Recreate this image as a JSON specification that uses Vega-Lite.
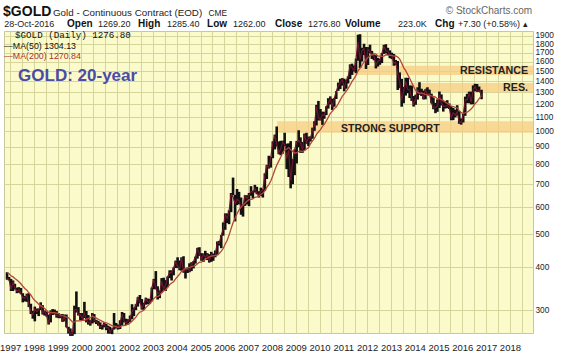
{
"$schema": "https://vega.github.io/schema/vega-lite/v6.json",
"width": 529, "height": 302,
"autosize": {"type": "none"},
"padding": {"left": 4, "top": 31, "right": 36, "bottom": 22},
"background": "#ffffff",
"config": {
  "view": {"fill": "#fafacb", "stroke": "#c8c8a0", "strokeWidth": 1},
  "font": "Liberation Sans",
  "axis": {"labelFont": "Liberation Sans", "labelFontSize": 9.5, "labelColor": "#222", "gridColor": "#d6d69c", "gridWidth": 1, "gridOpacity": 1, "ticks": false, "tickSize": 0, "domain": false, "title": null}
},
"datasets": {
"gold": [
{"date":"1996-11-15","high":387,"low":368,"close":372,"ma200":386},
{"date":"1996-12-15","high":375,"low":366,"close":369,"ma200":383},
{"date":"1997-01-15","high":370,"low":341,"close":345,"ma200":378},
{"date":"1997-02-15","high":366,"low":341,"close":362,"ma200":375},
{"date":"1997-03-15","high":358,"low":345,"close":349,"ma200":371},
{"date":"1997-04-15","high":349,"low":336,"close":340,"ma200":367},
{"date":"1997-05-15","high":350,"low":337,"close":345,"ma200":363},
{"date":"1997-06-15","high":348,"low":334,"close":335,"ma200":358},
{"date":"1997-07-15","high":336,"low":316,"close":326,"ma200":352},
{"date":"1997-08-15","high":330,"low":318,"close":325,"ma200":347},
{"date":"1997-09-15","high":335,"low":317,"close":332,"ma200":343},
{"date":"1997-10-15","high":336,"low":306,"close":311,"ma200":337},
{"date":"1997-11-15","high":313,"low":292,"close":297,"ma200":332},
{"date":"1997-12-15","high":298,"low":283,"close":290,"ma200":325},
{"date":"1998-01-15","high":307,"low":278,"close":302,"ma200":320},
{"date":"1998-02-15","high":303,"low":292,"close":297,"ma200":316},
{"date":"1998-03-15","high":303,"low":288,"close":301,"ma200":312},
{"date":"1998-04-15","high":316,"low":300,"close":309,"ma200":309},
{"date":"1998-05-15","high":310,"low":291,"close":294,"ma200":306},
{"date":"1998-06-15","high":299,"low":289,"close":297,"ma200":303},
{"date":"1998-07-15","high":297,"low":287,"close":289,"ma200":299},
{"date":"1998-08-15","high":291,"low":272,"close":274,"ma200":295},
{"date":"1998-09-15","high":299,"low":276,"close":297,"ma200":295},
{"date":"1998-10-15","high":302,"low":290,"close":293,"ma200":295},
{"date":"1998-11-15","high":301,"low":291,"close":295,"ma200":295},
{"date":"1998-12-15","high":298,"low":285,"close":289,"ma200":294},
{"date":"1999-01-15","high":294,"low":284,"close":288,"ma200":293},
{"date":"1999-02-15","high":292,"low":284,"close":288,"ma200":290},
{"date":"1999-03-15","high":292,"low":277,"close":280,"ma200":289},
{"date":"1999-04-15","high":291,"low":278,"close":287,"ma200":288},
{"date":"1999-05-15","high":291,"low":267,"close":268,"ma200":286},
{"date":"1999-06-15","high":268,"low":256,"close":262,"ma200":285},
{"date":"1999-07-15","high":265,"low":252,"close":256,"ma200":281},
{"date":"1999-08-15","high":259,"low":252,"close":256,"ma200":277},
{"date":"1999-09-15","high":309,"low":255,"close":300,"ma200":277},
{"date":"1999-10-15","high":340,"low":295,"close":301,"ma200":279},
{"date":"1999-11-15","high":306,"low":289,"close":292,"ma200":279},
{"date":"1999-12-15","high":294,"low":280,"close":290,"ma200":279},
{"date":"2000-01-15","high":294,"low":280,"close":284,"ma200":280},
{"date":"2000-02-15","high":317,"low":284,"close":295,"ma200":280},
{"date":"2000-03-15","high":298,"low":276,"close":280,"ma200":282},
{"date":"2000-04-15","high":290,"low":272,"close":276,"ma200":283},
{"date":"2000-05-15","high":280,"low":270,"close":274,"ma200":285},
{"date":"2000-06-15","high":294,"low":274,"close":290,"ma200":288},
{"date":"2000-07-15","high":292,"low":276,"close":279,"ma200":286},
{"date":"2000-08-15","high":281,"low":273,"close":278,"ma200":284},
{"date":"2000-09-15","high":279,"low":270,"close":274,"ma200":282},
{"date":"2000-10-15","high":276,"low":264,"close":266,"ma200":280},
{"date":"2000-11-15","high":271,"low":263,"close":270,"ma200":278},
{"date":"2000-12-15","high":276,"low":267,"close":274,"ma200":276},
{"date":"2001-01-15","high":273,"low":262,"close":266,"ma200":275},
{"date":"2001-02-15","high":270,"low":256,"close":267,"ma200":274},
{"date":"2001-03-15","high":268,"low":256,"close":258,"ma200":272},
{"date":"2001-04-15","high":265,"low":255,"close":264,"ma200":270},
{"date":"2001-05-15","high":294,"low":263,"close":268,"ma200":269},
{"date":"2001-06-15","high":275,"low":265,"close":270,"ma200":268},
{"date":"2001-07-15","high":272,"low":263,"close":266,"ma200":267},
{"date":"2001-08-15","high":280,"low":264,"close":274,"ma200":268},
{"date":"2001-09-15","high":296,"low":271,"close":292,"ma200":270},
{"date":"2001-10-15","high":294,"low":276,"close":279,"ma200":270},
{"date":"2001-11-15","high":283,"low":271,"close":275,"ma200":271},
{"date":"2001-12-15","high":282,"low":272,"close":279,"ma200":273},
{"date":"2002-01-15","high":289,"low":277,"close":282,"ma200":275},
{"date":"2002-02-15","high":312,"low":282,"close":297,"ma200":278},
{"date":"2002-03-15","high":305,"low":288,"close":302,"ma200":282},
{"date":"2002-04-15","high":312,"low":300,"close":309,"ma200":286},
{"date":"2002-05-15","high":327,"low":307,"close":326,"ma200":292},
{"date":"2002-06-15","high":332,"low":314,"close":318,"ma200":296},
{"date":"2002-07-15","high":323,"low":301,"close":304,"ma200":297},
{"date":"2002-08-15","high":315,"low":300,"close":312,"ma200":300},
{"date":"2002-09-15","high":326,"low":311,"close":324,"ma200":305},
{"date":"2002-10-15","high":324,"low":312,"close":317,"ma200":309},
{"date":"2002-11-15","high":323,"low":313,"close":318,"ma200":313},
{"date":"2002-12-15","high":349,"low":318,"close":348,"ma200":318},
{"date":"2003-01-15","high":370,"low":345,"close":368,"ma200":324},
{"date":"2003-02-15","high":390,"low":345,"close":348,"ma200":328},
{"date":"2003-03-15","high":352,"low":322,"close":335,"ma200":329},
{"date":"2003-04-15","high":342,"low":325,"close":337,"ma200":331},
{"date":"2003-05-15","high":372,"low":337,"close":364,"ma200":337},
{"date":"2003-06-15","high":373,"low":342,"close":346,"ma200":341},
{"date":"2003-07-15","high":367,"low":341,"close":354,"ma200":344},
{"date":"2003-08-15","high":376,"low":350,"close":375,"ma200":349},
{"date":"2003-09-15","high":392,"low":372,"close":386,"ma200":356},
{"date":"2003-10-15","high":392,"low":366,"close":386,"ma200":360},
{"date":"2003-11-15","high":400,"low":379,"close":398,"ma200":363},
{"date":"2003-12-15","high":418,"low":398,"close":416,"ma200":370},
{"date":"2004-01-15","high":428,"low":398,"close":402,"ma200":376},
{"date":"2004-02-15","high":419,"low":392,"close":397,"ma200":382},
{"date":"2004-03-15","high":428,"low":391,"close":426,"ma200":389},
{"date":"2004-04-15","high":431,"low":386,"close":388,"ma200":393},
{"date":"2004-05-15","high":396,"low":371,"close":394,"ma200":397},
{"date":"2004-06-15","high":397,"low":385,"close":395,"ma200":399},
{"date":"2004-07-15","high":411,"low":387,"close":391,"ma200":399},
{"date":"2004-08-15","high":414,"low":390,"close":408,"ma200":402},
{"date":"2004-09-15","high":417,"low":397,"close":416,"ma200":403},
{"date":"2004-10-15","high":430,"low":410,"close":429,"ma200":405},
{"date":"2004-11-15","high":456,"low":424,"close":453,"ma200":410},
{"date":"2004-12-15","high":458,"low":432,"close":438,"ma200":414},
{"date":"2005-01-15","high":440,"low":418,"close":423,"ma200":414},
{"date":"2005-02-15","high":439,"low":415,"close":436,"ma200":418},
{"date":"2005-03-15","high":447,"low":425,"close":428,"ma200":422},
{"date":"2005-04-15","high":440,"low":420,"close":436,"ma200":426},
{"date":"2005-05-15","high":437,"low":413,"close":418,"ma200":429},
{"date":"2005-06-15","high":444,"low":415,"close":437,"ma200":431},
{"date":"2005-07-15","high":439,"low":418,"close":430,"ma200":433},
{"date":"2005-08-15","high":448,"low":428,"close":434,"ma200":433},
{"date":"2005-09-15","high":476,"low":434,"close":473,"ma200":435},
{"date":"2005-10-15","high":478,"low":463,"close":470,"ma200":439},
{"date":"2005-11-15","high":497,"low":455,"close":496,"ma200":446},
{"date":"2005-12-15","high":541,"low":495,"close":518,"ma200":454},
{"date":"2006-01-15","high":575,"low":515,"close":570,"ma200":468},
{"date":"2006-02-15","high":575,"low":539,"close":556,"ma200":480},
{"date":"2006-03-15","high":587,"low":535,"close":584,"ma200":497},
{"date":"2006-04-15","high":660,"low":580,"close":654,"ma200":519},
{"date":"2006-05-15","high":732,"low":650,"close":643,"ma200":540},
{"date":"2006-06-15","high":652,"low":545,"close":614,"ma200":558},
{"date":"2006-07-15","high":678,"low":608,"close":633,"ma200":574},
{"date":"2006-08-15","high":665,"low":612,"close":626,"ma200":589},
{"date":"2006-09-15","high":640,"low":570,"close":599,"ma200":600},
{"date":"2006-10-15","high":610,"low":563,"close":606,"ma200":609},
{"date":"2006-11-15","high":650,"low":605,"close":647,"ma200":616},
{"date":"2006-12-15","high":650,"low":611,"close":636,"ma200":624},
{"date":"2007-01-15","high":660,"low":604,"close":651,"ma200":631},
{"date":"2007-02-15","high":691,"low":648,"close":667,"ma200":632},
{"date":"2007-03-15","high":670,"low":636,"close":663,"ma200":634},
{"date":"2007-04-15","high":697,"low":662,"close":680,"ma200":641},
{"date":"2007-05-15","high":688,"low":654,"close":659,"ma200":643},
{"date":"2007-06-15","high":668,"low":640,"close":650,"ma200":646},
{"date":"2007-07-15","high":684,"low":647,"close":667,"ma200":653},
{"date":"2007-08-15","high":677,"low":640,"close":673,"ma200":659},
{"date":"2007-09-15","high":753,"low":670,"close":743,"ma200":669},
{"date":"2007-10-15","high":797,"low":725,"close":794,"ma200":685},
{"date":"2007-11-15","high":848,"low":778,"close":783,"ma200":698},
{"date":"2007-12-15","high":842,"low":783,"close":838,"ma200":715},
{"date":"2008-01-15","high":934,"low":834,"close":924,"ma200":741},
{"date":"2008-02-15","high":978,"low":885,"close":972,"ma200":770},
{"date":"2008-03-15","high":1033,"low":903,"close":917,"ma200":796},
{"date":"2008-04-15","high":934,"low":857,"close":865,"ma200":818},
{"date":"2008-05-15","high":938,"low":851,"close":888,"ma200":840},
{"date":"2008-06-15","high":939,"low":860,"close":930,"ma200":865},
{"date":"2008-07-15","high":990,"low":906,"close":912,"ma200":882},
{"date":"2008-08-15","high":920,"low":775,"close":833,"ma200":886},
{"date":"2008-09-15","high":922,"low":735,"close":880,"ma200":896},
{"date":"2008-10-15","high":936,"low":681,"close":718,"ma200":884},
{"date":"2008-11-15","high":829,"low":700,"close":815,"ma200":873},
{"date":"2008-12-15","high":885,"low":744,"close":884,"ma200":864},
{"date":"2009-01-15","high":937,"low":805,"close":928,"ma200":865},
{"date":"2009-02-15","high":1007,"low":898,"close":942,"ma200":873},
{"date":"2009-03-15","high":960,"low":865,"close":922,"ma200":876},
{"date":"2009-04-15","high":931,"low":865,"close":884,"ma200":872},
{"date":"2009-05-15","high":985,"low":880,"close":979,"ma200":879},
{"date":"2009-06-15","high":990,"low":920,"close":927,"ma200":888},
{"date":"2009-07-15","high":965,"low":905,"close":955,"ma200":895},
{"date":"2009-08-15","high":966,"low":933,"close":955,"ma200":919},
{"date":"2009-09-15","high":1025,"low":951,"close":1008,"ma200":938},
{"date":"2009-10-15","high":1070,"low":1003,"close":1040,"ma200":954},
{"date":"2009-11-15","high":1195,"low":1040,"close":1182,"ma200":979},
{"date":"2009-12-15","high":1227,"low":1075,"close":1096,"ma200":995},
{"date":"2010-01-15","high":1162,"low":1076,"close":1081,"ma200":1011},
{"date":"2010-02-15","high":1142,"low":1044,"close":1118,"ma200":1034},
{"date":"2010-03-15","high":1139,"low":1088,"close":1113,"ma200":1048},
{"date":"2010-04-15","high":1183,"low":1115,"close":1180,"ma200":1073},
{"date":"2010-05-15","high":1250,"low":1165,"close":1207,"ma200":1098},
{"date":"2010-06-15","high":1265,"low":1198,"close":1244,"ma200":1127},
{"date":"2010-07-15","high":1245,"low":1155,"close":1181,"ma200":1144},
{"date":"2010-08-15","high":1250,"low":1180,"close":1248,"ma200":1165},
{"date":"2010-09-15","high":1310,"low":1243,"close":1307,"ma200":1178},
{"date":"2010-10-15","high":1388,"low":1313,"close":1358,"ma200":1204},
{"date":"2010-11-15","high":1424,"low":1329,"close":1386,"ma200":1234},
{"date":"2010-12-15","high":1431,"low":1360,"close":1421,"ma200":1265},
{"date":"2011-01-15","high":1425,"low":1309,"close":1333,"ma200":1287},
{"date":"2011-02-15","high":1412,"low":1332,"close":1411,"ma200":1310},
{"date":"2011-03-15","high":1448,"low":1380,"close":1439,"ma200":1333},
{"date":"2011-04-15","high":1569,"low":1422,"close":1556,"ma200":1364},
{"date":"2011-05-15","high":1577,"low":1462,"close":1536,"ma200":1400},
{"date":"2011-06-15","high":1557,"low":1496,"close":1502,"ma200":1425},
{"date":"2011-07-15","high":1632,"low":1479,"close":1628,"ma200":1457},
{"date":"2011-08-15","high":1917,"low":1608,"close":1828,"ma200":1504},
{"date":"2011-09-15","high":1923,"low":1532,"close":1620,"ma200":1527},
{"date":"2011-10-15","high":1755,"low":1600,"close":1725,"ma200":1558},
{"date":"2011-11-15","high":1803,"low":1671,"close":1746,"ma200":1599},
{"date":"2011-12-15","high":1764,"low":1522,"close":1566,"ma200":1615},
{"date":"2012-01-15","high":1763,"low":1563,"close":1738,"ma200":1645},
{"date":"2012-02-15","high":1792,"low":1692,"close":1711,"ma200":1660},
{"date":"2012-03-15","high":1719,"low":1627,"close":1669,"ma200":1673},
{"date":"2012-04-15","high":1678,"low":1613,"close":1664,"ma200":1690},
{"date":"2012-05-15","high":1670,"low":1527,"close":1560,"ma200":1683},
{"date":"2012-06-15","high":1640,"low":1547,"close":1604,"ma200":1660},
{"date":"2012-07-15","high":1628,"low":1565,"close":1614,"ma200":1660},
{"date":"2012-08-15","high":1694,"low":1583,"close":1687,"ma200":1656},
{"date":"2012-09-15","high":1790,"low":1684,"close":1773,"ma200":1659},
{"date":"2012-10-15","high":1798,"low":1691,"close":1719,"ma200":1674},
{"date":"2012-11-15","high":1755,"low":1672,"close":1712,"ma200":1671},
{"date":"2012-12-15","high":1725,"low":1636,"close":1675,"ma200":1668},
{"date":"2013-01-15","high":1698,"low":1626,"close":1663,"ma200":1667},
{"date":"2013-02-15","high":1683,"low":1555,"close":1578,"ma200":1659},
{"date":"2013-03-15","high":1617,"low":1562,"close":1596,"ma200":1662},
{"date":"2013-04-15","high":1606,"low":1321,"close":1476,"ma200":1649},
{"date":"2013-05-15","high":1487,"low":1338,"close":1393,"ma200":1627},
{"date":"2013-06-15","high":1424,"low":1180,"close":1234,"ma200":1582},
{"date":"2013-07-15","high":1348,"low":1208,"close":1312,"ma200":1536},
{"date":"2013-08-15","high":1434,"low":1272,"close":1396,"ma200":1504},
{"date":"2013-09-15","high":1434,"low":1292,"close":1327,"ma200":1465},
{"date":"2013-10-15","high":1362,"low":1251,"close":1323,"ma200":1430},
{"date":"2013-11-15","high":1361,"low":1227,"close":1250,"ma200":1389},
{"date":"2013-12-15","high":1268,"low":1181,"close":1202,"ma200":1351},
{"date":"2014-01-15","high":1280,"low":1195,"close":1240,"ma200":1315},
{"date":"2014-02-15","high":1345,"low":1238,"close":1321,"ma200":1300},
{"date":"2014-03-15","high":1392,"low":1277,"close":1284,"ma200":1289},
{"date":"2014-04-15","high":1332,"low":1268,"close":1296,"ma200":1295},
{"date":"2014-05-15","high":1315,"low":1240,"close":1250,"ma200":1289},
{"date":"2014-06-15","high":1327,"low":1240,"close":1322,"ma200":1282},
{"date":"2014-07-15","high":1345,"low":1281,"close":1282,"ma200":1277},
{"date":"2014-08-15","high":1324,"low":1270,"close":1287,"ma200":1273},
{"date":"2014-09-15","high":1288,"low":1207,"close":1210,"ma200":1269},
{"date":"2014-10-15","high":1256,"low":1160,"close":1171,"ma200":1266},
{"date":"2014-11-15","high":1211,"low":1130,"close":1175,"ma200":1260},
{"date":"2014-12-15","high":1240,"low":1140,"close":1184,"ma200":1246},
{"date":"2015-01-15","high":1307,"low":1170,"close":1279,"ma200":1246},
{"date":"2015-02-15","high":1282,"low":1190,"close":1212,"ma200":1237},
{"date":"2015-03-15","high":1224,"low":1142,"close":1183,"ma200":1231},
{"date":"2015-04-15","high":1225,"low":1166,"close":1182,"ma200":1217},
{"date":"2015-05-15","high":1233,"low":1169,"close":1190,"ma200":1207},
{"date":"2015-06-15","high":1206,"low":1162,"close":1172,"ma200":1196},
{"date":"2015-07-15","high":1183,"low":1077,"close":1095,"ma200":1184},
{"date":"2015-08-15","high":1170,"low":1078,"close":1132,"ma200":1180},
{"date":"2015-09-15","high":1157,"low":1098,"close":1115,"ma200":1174},
{"date":"2015-10-15","high":1192,"low":1112,"close":1141,"ma200":1170},
{"date":"2015-11-15","high":1145,"low":1052,"close":1065,"ma200":1149},
{"date":"2015-12-15","high":1090,"low":1046,"close":1061,"ma200":1134},
{"date":"2016-01-15","high":1129,"low":1061,"close":1117,"ma200":1127},
{"date":"2016-02-15","high":1263,"low":1110,"close":1238,"ma200":1133},
{"date":"2016-03-15","high":1287,"low":1208,"close":1235,"ma200":1137},
{"date":"2016-04-15","high":1306,"low":1208,"close":1293,"ma200":1149},
{"date":"2016-05-15","high":1306,"low":1199,"close":1215,"ma200":1161},
{"date":"2016-06-15","high":1362,"low":1200,"close":1321,"ma200":1180},
{"date":"2016-07-15","high":1377,"low":1310,"close":1351,"ma200":1204},
{"date":"2016-08-15","high":1375,"low":1304,"close":1309,"ma200":1221},
{"date":"2016-09-15","high":1352,"low":1305,"close":1317,"ma200":1246},
{"date":"2016-10-22","high":1323,"low":1241,"close":1277,"ma200":1271}
]
},
"layer": [
{
  "data": {"name": "gold"},
  "mark": {"type": "rule", "opacity": 0},
  "encoding": {
    "x": {"field": "date", "type": "temporal", "title": null,
      "scale": {"domain": [{"year": 1996, "month": 9, "date": 29}, {"year": 2018, "month": 12, "date": 21}]},
      "axis": {"tickCount": {"interval": "month", "step": 6}, "labelExpr": "month(datum.value)==0 ? timeFormat(datum.value,'%Y') : ''", "labelOverlap": false, "labelFlush": false, "labelBound": false, "labelPadding": 9, "labelAngle": 0, "grid": true}},
    "y": {"field": "low", "type": "quantitative", "title": null,
      "scale": {"type": "log", "domain": [257, 1965], "nice": false, "zero": false},
      "axis": {"orient": "right", "values": [300,400,500,600,700,800,900,1000,1100,1200,1300,1400,1500,1600,1700,1800,1900], "format": "d", "labelPadding": 2, "labelFontSize": 8.3, "labelOverlap": false, "labelBound": false, "labelFlush": false, "grid": true}},
    "y2": {"field": "high"}
  }
},
{
  "data": {"values": [{}]},
  "mark": {"type": "rect", "color": "#f5cc80", "opacity": 0.72},
  "encoding": {
    "x": {"datum": {"year": 2008, "month": 3, "date": 21}, "type": "temporal"},
    "x2": {"datum": {"year": 2018, "month": 12, "date": 21}},
    "y": {"datum": 990, "type": "quantitative"},
    "y2": {"datum": 1070}
  }
},
{
  "data": {"values": [{}]},
  "mark": {"type": "rect", "color": "#f5cc80", "opacity": 0.72},
  "encoding": {
    "x": {"datum": {"year": 2011, "month": 4, "date": 14}, "type": "temporal"},
    "x2": {"datum": {"year": 2018, "month": 12, "date": 21}},
    "y": {"datum": 1460, "type": "quantitative"},
    "y2": {"datum": 1555}
  }
},
{
  "data": {"values": [{}]},
  "mark": {"type": "rect", "color": "#f5cc80", "opacity": 0.72},
  "encoding": {
    "x": {"datum": {"year": 2013, "month": 9, "date": 21}, "type": "temporal"},
    "x2": {"datum": {"year": 2018, "month": 12, "date": 21}},
    "y": {"datum": 1300, "type": "quantitative"},
    "y2": {"datum": 1385}
  }
},
{
  "data": {"name": "gold"},
  "mark": {"type": "rule", "color": "#111111", "strokeWidth": 2.6},
  "encoding": {
    "x": {"field": "date", "type": "temporal"},
    "y": {"field": "low", "type": "quantitative"},
    "y2": {"field": "high"}
  }
},
{
  "data": {"name": "gold"},
  "mark": {"type": "line", "color": "#6e1530", "strokeWidth": 1.2},
  "encoding": {
    "x": {"field": "date", "type": "temporal"},
    "y": {"field": "close", "type": "quantitative"}
  }
},
{
  "data": {"name": "gold"},
  "mark": {"type": "line", "color": "#b5463a", "strokeWidth": 1.3},
  "encoding": {
    "x": {"field": "date", "type": "temporal"},
    "y": {"field": "ma200", "type": "quantitative"}
  }
},
{"data": {"values": [{}]}, "mark": {"type": "text", "text": "$GOLD", "align": "left", "baseline": "alphabetic", "fontSize": 14, "fontWeight": "bold", "color": "#111"},
 "encoding": {"x": {"datum": {"year": 1996, "month": 9, "date": 15}, "type": "temporal"}, "y": {"datum": 2174, "type": "quantitative"}}},
{"data": {"values": [{}]}, "mark": {"type": "text", "text": "Gold - Continuous Contract (EOD)", "align": "left", "baseline": "alphabetic", "fontSize": 9.8, "color": "#222"},
 "encoding": {"x": {"datum": {"year": 1998, "month": 10, "date": 21}, "type": "temporal"}, "y": {"datum": 2174, "type": "quantitative"}}},
{"data": {"values": [{}]}, "mark": {"type": "text", "text": "CME", "align": "left", "baseline": "alphabetic", "fontSize": 8.3, "color": "#222"},
 "encoding": {"x": {"datum": {"year": 2005, "month": 5, "date": 5}, "type": "temporal"}, "y": {"datum": 2174, "type": "quantitative"}}},
{"data": {"values": [{}]}, "mark": {"type": "text", "text": "28-Oct-2016", "align": "left", "baseline": "alphabetic", "fontSize": 9, "color": "#222"},
 "encoding": {"x": {"datum": {"year": 1996, "month": 10, "date": 1}, "type": "temporal"}, "y": {"datum": 2012, "type": "quantitative"}}},
{"data": {"values": [{}]}, "mark": {"type": "text", "text": "Open", "align": "left", "baseline": "alphabetic", "fontSize": 10, "fontWeight": "bold", "color": "#111"},
 "encoding": {"x": {"datum": {"year": 1999, "month": 5, "date": 24}, "type": "temporal"}, "y": {"datum": 2012, "type": "quantitative"}}},
{"data": {"values": [{}]}, "mark": {"type": "text", "text": "1269.20", "align": "left", "baseline": "alphabetic", "fontSize": 9, "color": "#222"},
 "encoding": {"x": {"datum": {"year": 2000, "month": 9, "date": 11}, "type": "temporal"}, "y": {"datum": 2012, "type": "quantitative"}}},
{"data": {"values": [{}]}, "mark": {"type": "text", "text": "High", "align": "left", "baseline": "alphabetic", "fontSize": 10, "fontWeight": "bold", "color": "#111"},
 "encoding": {"x": {"datum": {"year": 2002, "month": 5, "date": 18}, "type": "temporal"}, "y": {"datum": 2012, "type": "quantitative"}}},
{"data": {"values": [{}]}, "mark": {"type": "text", "text": "1285.40", "align": "left", "baseline": "alphabetic", "fontSize": 9, "color": "#222"},
 "encoding": {"x": {"datum": {"year": 2003, "month": 8, "date": 6}, "type": "temporal"}, "y": {"datum": 2012, "type": "quantitative"}}},
{"data": {"values": [{}]}, "mark": {"type": "text", "text": "Low", "align": "left", "baseline": "alphabetic", "fontSize": 10, "fontWeight": "bold", "color": "#111"},
 "encoding": {"x": {"datum": {"year": 2005, "month": 4, "date": 11}, "type": "temporal"}, "y": {"datum": 2012, "type": "quantitative"}}},
{"data": {"values": [{}]}, "mark": {"type": "text", "text": "1262.00", "align": "left", "baseline": "alphabetic", "fontSize": 9, "color": "#222"},
 "encoding": {"x": {"datum": {"year": 2006, "month": 5, "date": 15}, "type": "temporal"}, "y": {"datum": 2012, "type": "quantitative"}}},
{"data": {"values": [{}]}, "mark": {"type": "text", "text": "Close", "align": "left", "baseline": "alphabetic", "fontSize": 10, "fontWeight": "bold", "color": "#111"},
 "encoding": {"x": {"datum": {"year": 2008, "month": 2, "date": 18}, "type": "temporal"}, "y": {"datum": 2012, "type": "quantitative"}}},
{"data": {"values": [{}]}, "mark": {"type": "text", "text": "1276.80", "align": "left", "baseline": "alphabetic", "fontSize": 9, "color": "#222"},
 "encoding": {"x": {"datum": {"year": 2009, "month": 7, "date": 9}, "type": "temporal"}, "y": {"datum": 2012, "type": "quantitative"}}},
{"data": {"values": [{}]}, "mark": {"type": "text", "text": "Volume", "align": "left", "baseline": "alphabetic", "fontSize": 10, "fontWeight": "bold", "color": "#111"},
 "encoding": {"x": {"datum": {"year": 2011, "month": 1, "date": 28}, "type": "temporal"}, "y": {"datum": 2012, "type": "quantitative"}}},
{"data": {"values": [{}]}, "mark": {"type": "text", "text": "223.0K", "align": "left", "baseline": "alphabetic", "fontSize": 9, "color": "#222"},
 "encoding": {"x": {"datum": {"year": 2013, "month": 4, "date": 21}, "type": "temporal"}, "y": {"datum": 2012, "type": "quantitative"}}},
{"data": {"values": [{}]}, "mark": {"type": "text", "text": "Chg", "align": "left", "baseline": "alphabetic", "fontSize": 10, "fontWeight": "bold", "color": "#111"},
 "encoding": {"x": {"datum": {"year": 2014, "month": 11, "date": 9}, "type": "temporal"}, "y": {"datum": 2012, "type": "quantitative"}}},
{"data": {"values": [{}]}, "mark": {"type": "text", "text": "+7.30 (+0.58%) ▴", "align": "left", "baseline": "alphabetic", "fontSize": 9, "color": "#222"},
 "encoding": {"x": {"datum": {"year": 2015, "month": 10, "date": 28}, "type": "temporal"}, "y": {"datum": 2012, "type": "quantitative"}}},
{"data": {"values": [{}]}, "mark": {"type": "text", "text": "© StockCharts.com", "align": "right", "baseline": "alphabetic", "fontSize": 10, "color": "#666"},
 "encoding": {"x": {"datum": {"year": 2018, "month": 12, "date": 7}, "type": "temporal"}, "y": {"datum": 2200, "type": "quantitative"}}},
{"data": {"values": [{}]}, "mark": {"type": "text", "text": "$GOLD (Daily) 1276.80", "align": "left", "baseline": "alphabetic", "font": "Liberation Mono", "fontSize": 9.2, "color": "#111"},
 "encoding": {"x": {"datum": {"year": 1997, "month": 3, "date": 18}, "type": "temporal"}, "y": {"datum": 1880, "type": "quantitative"}}},
{"data": {"values": [{}]}, "mark": {"type": "text", "text": "—MA(50) 1304.13", "align": "left", "baseline": "alphabetic", "fontSize": 8.8, "color": "#111"},
 "encoding": {"x": {"datum": {"year": 1996, "month": 9, "date": 30}, "type": "temporal"}, "y": {"datum": 1745, "type": "quantitative"}}},
{"data": {"values": [{}]}, "mark": {"type": "text", "text": "—MA(200) 1270.84", "align": "left", "baseline": "alphabetic", "fontSize": 8.8, "color": "#a83232"},
 "encoding": {"x": {"datum": {"year": 1996, "month": 9, "date": 30}, "type": "temporal"}, "y": {"datum": 1632, "type": "quantitative"}}},
{"data": {"values": [{}]}, "mark": {"type": "text", "text": "GOLD: 20-year", "align": "left", "baseline": "alphabetic", "fontSize": 17, "fontWeight": "bold", "color": "#4a4ca6"},
 "encoding": {"x": {"datum": {"year": 1997, "month": 5, "date": 3}, "type": "temporal"}, "y": {"datum": 1403, "type": "quantitative"}}},
{"data": {"values": [{}]}, "mark": {"type": "text", "text": "RESISTANCE", "align": "right", "baseline": "alphabetic", "fontSize": 10.7, "fontWeight": "bold", "color": "#222"},
 "encoding": {"x": {"datum": {"year": 2018, "month": 10, "date": 6}, "type": "temporal"}, "y": {"datum": 1466, "type": "quantitative"}}},
{"data": {"values": [{}]}, "mark": {"type": "text", "text": "RES.", "align": "right", "baseline": "alphabetic", "fontSize": 10.7, "fontWeight": "bold", "color": "#222"},
 "encoding": {"x": {"datum": {"year": 2018, "month": 10, "date": 6}, "type": "temporal"}, "y": {"datum": 1316, "type": "quantitative"}}},
{"data": {"values": [{}]}, "mark": {"type": "text", "text": "STRONG SUPPORT", "align": "left", "baseline": "alphabetic", "fontSize": 10.5, "fontWeight": "bold", "color": "#222"},
 "encoding": {"x": {"datum": {"year": 2010, "month": 11, "date": 27}, "type": "temporal"}, "y": {"datum": 995, "type": "quantitative"}}}
]
}
